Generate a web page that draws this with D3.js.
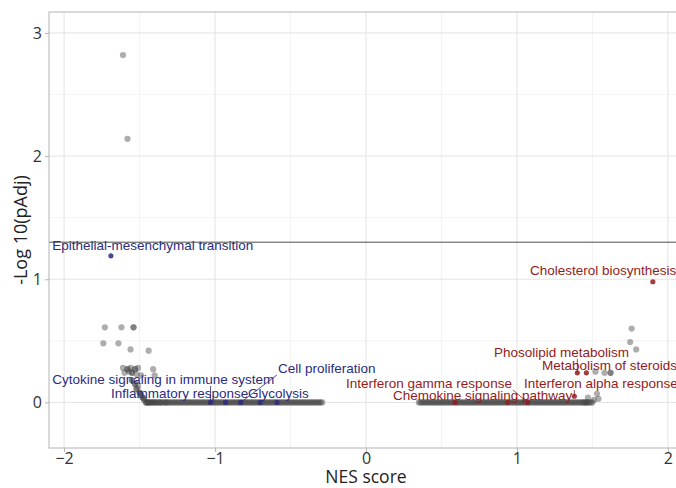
<!DOCTYPE html>
<html>
<head>
<meta charset="utf-8">
<script src="https://cdn.jsdelivr.net/npm/d3@7"></script>
<style>
body { margin: 0; background: #fff; }
svg { display: block; }
</style>
</head>
<body>
<div id="chart"></div>
<script>
const xTicks = [-2, -1, 0, 1, 2];
const yTicks = [0, 1, 2, 3];
const threshold = 1.301; // -log10(0.05)

// gene sets without a label, off the baseline [NES, -log10(pAdj)]
const grayPoints = [
  [-1.61, 2.82], [-1.58, 2.14],
  [-1.73, 0.61], [-1.62, 0.61], [-1.54, 0.61], [-1.54, 0.61],
  [-1.74, 0.48], [-1.64, 0.48], [-1.56, 0.43], [-1.44, 0.42],
  [-1.61, 0.28], [-1.58, 0.27], [-1.58, 0.27], [-1.56, 0.28], [-1.53, 0.27], [-1.53, 0.27],
  [-1.51, 0.28], [-1.57, 0.25], [-1.60, 0.24], [-1.55, 0.24], [-1.55, 0.24], [-1.52, 0.23],
  [-1.49, 0.22], [-1.41, 0.27], [-1.40, 0.22],
  [-1.55, 0.18], [-1.55, 0.18], [-1.53, 0.15], [-1.53, 0.15], [-1.52, 0.11], [-1.52, 0.11],
  [-1.51, 0.13], [-1.50, 0.08], [-1.50, 0.08], [-1.49, 0.06], [-1.49, 0.06], [-1.48, 0.04],
  [-1.48, 0.04], [-1.47, 0.03], [-1.47, 0.02],
  [1.47, 0.04], [1.53, 0.07], [1.54, 0.03], [1.51, 0.02],
  [1.58, 0.24], [1.62, 0.24], [1.62, 0.24], [1.52, 0.25],
  [1.76, 0.60], [1.75, 0.49], [1.79, 0.43]
];

// gene sets with pAdj = 1 (baseline), NES only
const leftBandNES = [
  -1.46, -1.455, -1.45, -1.445, -1.44, -1.435, -1.43, -1.42, -1.415, -1.41, -1.40, -1.395, -1.39,
  -1.38, -1.37, -1.365, -1.36, -1.35, -1.34, -1.33, -1.325, -1.32, -1.31, -1.30, -1.29, -1.28,
  -1.27, -1.26, -1.25, -1.24, -1.23, -1.22, -1.21, -1.20, -1.19, -1.18, -1.17, -1.16, -1.15,
  -1.14, -1.13, -1.12, -1.11, -1.10, -1.09, -1.08, -1.07, -1.06, -1.05, -1.04, -1.03, -1.02,
  -1.01, -1.00, -0.99, -0.98, -0.97, -0.96, -0.95, -0.94, -0.93, -0.92, -0.91, -0.90, -0.89,
  -0.88, -0.87, -0.86, -0.85, -0.84, -0.83, -0.82, -0.81, -0.80, -0.79, -0.78, -0.77, -0.76,
  -0.75, -0.74, -0.73, -0.72, -0.71, -0.70, -0.69, -0.68, -0.67, -0.66, -0.65, -0.64, -0.63,
  -0.62, -0.61, -0.60, -0.59, -0.58, -0.57, -0.56, -0.55, -0.54, -0.53, -0.52, -0.51, -0.50,
  -0.49, -0.48, -0.47, -0.46, -0.45, -0.44, -0.43, -0.42, -0.41, -0.40, -0.39, -0.38, -0.37,
  -0.36, -0.35, -0.34, -0.33, -0.32, -0.31, -0.30, -0.29
];
const rightBandNES = [
  0.35, 0.36, 0.37, 0.38, 0.39, 0.40, 0.41, 0.42, 0.43, 0.44, 0.45, 0.46, 0.47, 0.48, 0.49,
  0.50, 0.51, 0.52, 0.53, 0.54, 0.55, 0.56, 0.57, 0.58, 0.59, 0.60, 0.61, 0.62, 0.63, 0.64,
  0.65, 0.66, 0.67, 0.68, 0.69, 0.70, 0.71, 0.72, 0.73, 0.74, 0.75, 0.76, 0.77, 0.78, 0.79,
  0.80, 0.81, 0.82, 0.83, 0.84, 0.85, 0.86, 0.87, 0.88, 0.89, 0.90, 0.91, 0.92, 0.93, 0.94,
  0.95, 0.96, 0.97, 0.98, 0.99, 1.00, 1.01, 1.02, 1.03, 1.04, 1.05, 1.06, 1.07, 1.08, 1.09,
  1.10, 1.11, 1.12, 1.13, 1.14, 1.15, 1.16, 1.17, 1.18, 1.19, 1.20, 1.21, 1.22, 1.23, 1.24,
  1.25, 1.26, 1.27, 1.28, 1.29, 1.30, 1.31, 1.32, 1.33, 1.34, 1.35, 1.36, 1.37, 1.38, 1.39,
  1.40, 1.41, 1.42, 1.43, 1.44, 1.445, 1.45, 1.46, 1.465, 1.47, 1.48, 1.49, 1.50
];

// highlighted gene sets ("" = no label shown)
const labelNames = [
  "Epithelial-mesenchymal transition", "Cytokine signaling in immune system",
  "Inflammatory response", "Glycolysis", "Cell proliferation", "",
  "Cholesterol biosynthesis", "Phosolipid metabolism", "Metabolism of steroids",
  "Interferon gamma response", "Interferon alpha response", "Chemokine signaling pathway", ""
];
const labelNES = [-1.69, -1.03, -0.93, -0.70, -0.83, -0.59, 1.90, 1.40, 1.46, 1.07, 1.38, 0.94, 0.59];
const labelLogP = [1.19, 0.00, 0.00, 0.00, 0.00, 0.00, 0.98, 0.24, 0.24, 0.00, 0.05, 0.00, 0.00];
const labelGroup = ["down", "down", "down", "down", "down", "down", "up", "up", "up", "up", "up", "up", "up"];

// repelled label spots (left edge, middle), in data units
const labelPosX = [-2.079, -2.079, -1.689, -0.781, -0.583, 0, 1.086, 0.848, 1.166, -0.132, 1.046, 0.179, 0];
const labelPosY = [1.276, 0.187, 0.073, 0.073, 0.276, 0, 1.073, 0.407, 0.301, 0.154, 0.154, 0.057, 0];

const w = 676;
const h = 488;
const pL = 49, pT = 12, pR = 683, pB = 448; // panel edges

const colors = { down: "#2a2c80", up: "#921c20" };

const svg = d3.select("#chart").append("svg").attr("width", w).attr("height", h);

const x = d3.scaleLinear().domain([-2.1, 2.1]).range([pL, pR]);
const y = d3.scaleLinear().domain([-0.37, 3.17]).range([pB, pT]);

// minor grid
const xMinor = [-1.5, -0.5, 0.5, 1.5];
const yMinor = [0.5, 1.5, 2.5];
svg.append("g").selectAll("line").data(xMinor).enter().append("line")
  .attr("x1", d => x(d)).attr("x2", d => x(d)).attr("y1", pT).attr("y2", pB)
  .attr("stroke", "#f0f0f0").attr("stroke-width", 0.8);
svg.append("g").selectAll("line").data(yMinor).enter().append("line")
  .attr("y1", d => y(d)).attr("y2", d => y(d)).attr("x1", pL).attr("x2", pR)
  .attr("stroke", "#f0f0f0").attr("stroke-width", 0.8);

// major grid
svg.append("g").selectAll("line").data(xTicks).enter().append("line")
  .attr("x1", d => x(d)).attr("x2", d => x(d)).attr("y1", pT).attr("y2", pB)
  .attr("stroke", "#e3e3e3").attr("stroke-width", 1);
svg.append("g").selectAll("line").data(yTicks).enter().append("line")
  .attr("y1", d => y(d)).attr("y2", d => y(d)).attr("x1", pL).attr("x2", pR)
  .attr("stroke", "#e3e3e3").attr("stroke-width", 1);

// significance line
svg.append("line").attr("x1", pL).attr("x2", pR)
  .attr("y1", y(threshold)).attr("y2", y(threshold))
  .attr("stroke", "#4d4d4d").attr("stroke-width", 1);

// gray points
const bandPoints = leftBandNES.concat(rightBandNES).map(v => [v, 0]);
svg.append("g").selectAll("circle").data(grayPoints.concat(bandPoints)).enter().append("circle")
  .attr("cx", d => x(d[0])).attr("cy", d => y(d[1])).attr("r", 3.1)
  .attr("fill", "#444").attr("fill-opacity", 0.44);

const labelled = labelNames.map((name, i) => ({
  name, nes: labelNES[i], p: labelLogP[i], group: labelGroup[i], lx: labelPosX[i], ly: labelPosY[i]
}));

svg.append("g").selectAll("circle").data(labelled).enter().append("circle")
  .attr("cx", d => x(d.nes)).attr("cy", d => y(d.p)).attr("r", 2.6)
  .attr("fill", d => colors[d.group]).attr("fill-opacity", 0.85);

// labels and leader segments
const lab = svg.append("g");
labelled.filter(d => d.name).forEach(d => {
  const t = lab.append("text").attr("x", x(d.lx)).attr("y", y(d.ly))
    .attr("dominant-baseline", "central")
    .style("font-family", "'Liberation Sans', Arial, sans-serif").style("font-size", "13.5px")
    .attr("fill", colors[d.group]).text(d.name);
  const b = t.node().getBBox();
  const px = x(d.nes), py = y(d.p);
  const sx = Math.max(b.x - 1, Math.min(px, b.x + b.width + 1));
  const sy = Math.max(b.y + 2, Math.min(py, b.y + b.height - 1));
  if (Math.hypot(px - sx, py - sy) > 5) {
    lab.insert("line", ":first-child").attr("x1", sx).attr("y1", sy).attr("x2", px).attr("y2", py)
      .attr("stroke", colors[d.group]).attr("stroke-width", 0.8);
  }
});

// panel border
svg.append("rect").attr("x", pL).attr("y", pT).attr("width", pR - pL).attr("height", pB - pT)
  .attr("fill", "none").attr("stroke", "#b3b3b3").attr("stroke-width", 1);

// axes
const xAxis = d3.axisBottom(x).tickValues(xTicks).tickSize(4).tickPadding(1).tickFormat(d3.format("d"));
const gx = svg.append("g").attr("transform", `translate(0, ${pB})`).call(xAxis);
const yAxis = d3.axisLeft(y).tickValues(yTicks).tickSize(4).tickPadding(3).tickFormat(d3.format("d"));
const gy = svg.append("g").attr("transform", `translate(${pL}, 0)`).call(yAxis);
[gx, gy].forEach(g => {
  g.select(".domain").remove();
  g.selectAll(".tick line").attr("stroke", "#b3b3b3");
  g.selectAll(".tick text").attr("fill", "#333")
    .style("font-family", "'Open Sans', sans-serif").style("font-size", "16px");
});

svg.append("text").attr("x", x(0)).attr("y", 476)
  .attr("text-anchor", "middle").attr("dominant-baseline", "central")
  .style("font-family", "'Open Sans', sans-serif").style("font-size", "17.5px").attr("fill", "#222")
  .text("NES score");

svg.append("text").attr("transform", `translate(20, ${(pT + pB) / 2}) rotate(-90)`)
  .attr("text-anchor", "middle").attr("dominant-baseline", "central")
  .style("font-family", "'Open Sans', sans-serif").style("font-size", "18px").attr("fill", "#222")
  .text("-Log 10(pAdj)");
</script>
</body>
</html>
